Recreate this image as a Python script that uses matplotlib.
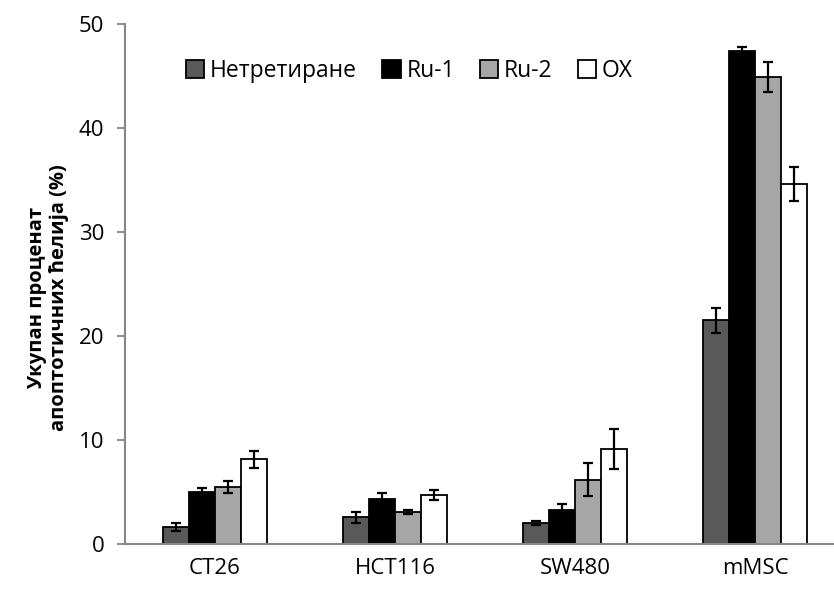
import matplotlib
matplotlib.use("Agg")
import matplotlib.pyplot as plt
import numpy as np

plt.rcParams['font.family'] = ['Open Sans', 'DejaVu Sans']

categories = ["CT26", "HCT116", "SW480", "mMSC"]
series = ["Нетретиране", "Ru-1", "Ru-2", "OX"]
untreated = [1.65, 2.55, 2.05, 21.5]
untreated_err = [0.4, 0.5, 0.2, 1.2]
ru1 = [5.0, 4.35, 3.27, 47.4]
ru1_err = [0.35, 0.6, 0.55, 0.4]
ru2 = [5.5, 3.08, 6.2, 44.9]
ru2_err = [0.6, 0.15, 1.6, 1.45]
ox = [8.15, 4.7, 9.15, 34.6]
ox_err = [0.8, 0.5, 1.95, 1.65]

values = [untreated, ru1, ru2, ox]
errors = [untreated_err, ru1_err, ru2_err, ox_err]
colors = ["#595959", "#000000", "#a6a6a6", "#ffffff"]

W, H = 834, 592
fig = plt.figure(figsize=(W / 100, H / 100), dpi=100)
ax = fig.add_axes([125 / W, (H - 544) / H, 720 / W, 520 / H])

x = np.arange(len(categories))
bw = 0.144
for i, (vals, errs, c, name) in enumerate(zip(values, errors, colors, series)):
    pos = x + (i - 1.5) * bw
    ax.bar(pos, vals, width=bw, color=c, edgecolor="black", linewidth=1.3,
           label=name, zorder=2)
    ax.errorbar(pos, vals, yerr=errs, fmt="none", ecolor="black",
                elinewidth=1.6, capsize=3.8, capthick=1.6, zorder=3)

ax.set_xlim(-0.5, 3.5)
ax.set_ylim(0, 50)
ax.set_yticks([0, 10, 20, 30, 40, 50])
ax.set_xticks(x)
ax.set_xticklabels(categories)
ax.tick_params(axis="x", length=0, pad=10, labelsize=16)
ax.tick_params(axis="y", length=6, width=1.3, color="#868686", pad=9, labelsize=16)
for s in ["top", "right"]:
    ax.spines[s].set_visible(False)
for s in ["left", "bottom"]:
    ax.spines[s].set_color("#868686")
    ax.spines[s].set_linewidth(1.5)

fig.text(48 / W, 294 / H, "Укупан проценат\nапоптотичних ћелија (%)",
         rotation=90, ha="center", va="center", fontsize=14.5,
         fontweight="bold", linespacing=1.15)

leg = ax.legend(loc="center left", bbox_to_anchor=((186 - 125) / 720, (544 - 71) / 520),
                ncol=4, frameon=False, fontsize=16.5, handlelength=0.8,
                handleheight=0.8, handletextpad=0.25, columnspacing=1.1,
                borderpad=0, borderaxespad=0)

fig.savefig("out.png", dpi=100)
